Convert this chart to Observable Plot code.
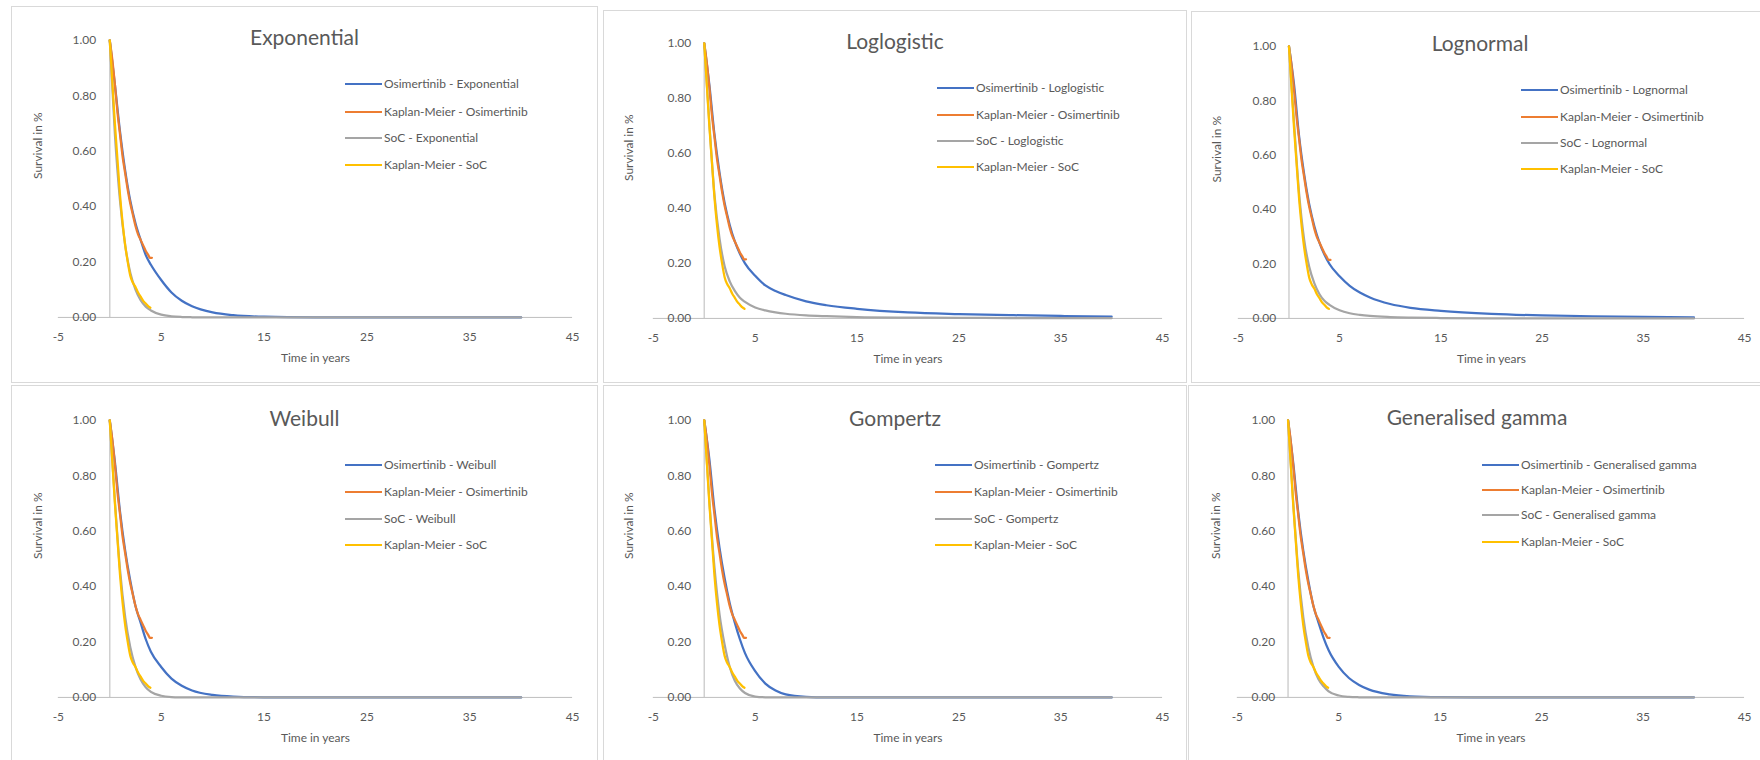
<!DOCTYPE html>
<html><head><meta charset="utf-8">
<script src="https://cdn.jsdelivr.net/npm/d3@7"></script>
<script src="https://cdn.jsdelivr.net/npm/@observablehq/plot@0.6"></script>
<style>
html,body{margin:0;padding:0;background:#fff;}
#root{position:relative;width:1760px;height:760px;overflow:hidden;font-family:Lato,"Open Sans",sans-serif;color:#595959;}
.panel{position:absolute;box-sizing:border-box;border:1px solid #d9d9d9;background:#fff;}
.panel svg{position:absolute;left:-1px;top:-1px;}
.title{position:absolute;left:0;right:0;text-align:center;font-size:21px;line-height:22px;white-space:nowrap;}
.item{position:absolute;white-space:nowrap;display:flex;align-items:center;font-size:12px;line-height:16px;height:16px;}
.swatch{display:inline-block;width:37px;height:0;border-top:2.5px solid;margin-right:2px;}
</style></head><body><div id="root"></div>
<script>
// ---- data ----
const models = ["Exponential", "Loglogistic", "Lognormal", "Weibull", "Gompertz", "Generalised gamma"];
const xTicks = [-5, 5, 15, 25, 35, 45];
const yTicks = [0, 0.2, 0.4, 0.6, 0.8, 1.0];

const fitTimes = [0, 0.5, 1, 1.5, 2, 2.5, 3, 3.5, 4, 5, 6, 7, 8, 10, 12, 15, 20, 25, 30, 35, 40];

const osiExponential = [1, 0.84, 0.67, 0.53, 0.42, 0.34, 0.28, 0.225, 0.19, 0.135, 0.09, 0.06, 0.04, 0.018, 0.008, 0.0025, 0.0003, 0, 0, 0, 0];
const socExponential = [1, 0.66, 0.42, 0.26, 0.16, 0.10, 0.062, 0.039, 0.025, 0.01, 0.004, 0.0015, 0.0006, 0, 0, 0, 0, 0, 0, 0, 0];
const osiLoglogistic = [1, 0.85, 0.67, 0.53, 0.42, 0.34, 0.28, 0.235, 0.20, 0.155, 0.12, 0.10, 0.085, 0.062, 0.048, 0.035, 0.022, 0.016, 0.012, 0.009, 0.007];
const socLoglogistic = [1, 0.71, 0.45, 0.29, 0.19, 0.135, 0.10, 0.075, 0.06, 0.04, 0.029, 0.022, 0.017, 0.011, 0.008, 0.005, 0.003, 0.002, 0.0015, 0.001, 0.001];
const osiLognormal = [1, 0.86, 0.67, 0.53, 0.42, 0.34, 0.28, 0.235, 0.20, 0.155, 0.12, 0.095, 0.077, 0.053, 0.039, 0.028, 0.017, 0.011, 0.008, 0.006, 0.004];
const socLognormal = [1, 0.72, 0.46, 0.29, 0.19, 0.13, 0.09, 0.065, 0.05, 0.03, 0.019, 0.013, 0.009, 0.005, 0.003, 0.0015, 0.0005, 0, 0, 0, 0];
const osiWeibull = [1, 0.85, 0.67, 0.53, 0.42, 0.33, 0.27, 0.21, 0.165, 0.11, 0.068, 0.042, 0.025, 0.009, 0.003, 0.0005, 0, 0, 0, 0, 0];
const socWeibull = [1, 0.71, 0.46, 0.29, 0.18, 0.11, 0.065, 0.037, 0.02, 0.006, 0.0015, 0.0004, 0, 0, 0, 0, 0, 0, 0, 0, 0];
const osiGompertz = [1, 0.86, 0.68, 0.54, 0.43, 0.34, 0.27, 0.21, 0.16, 0.095, 0.05, 0.025, 0.011, 0.002, 0, 0, 0, 0, 0, 0, 0];
const socGompertz = [1, 0.71, 0.47, 0.30, 0.19, 0.11, 0.06, 0.032, 0.016, 0.003, 0.0005, 0, 0, 0, 0, 0, 0, 0, 0, 0, 0];
const osiGenGamma = [1, 0.85, 0.67, 0.53, 0.42, 0.33, 0.27, 0.215, 0.17, 0.11, 0.07, 0.045, 0.028, 0.011, 0.004, 0.001, 0, 0, 0, 0, 0];
const socGenGamma = [1, 0.71, 0.46, 0.29, 0.18, 0.11, 0.066, 0.04, 0.022, 0.007, 0.002, 0.0005, 0, 0, 0, 0, 0, 0, 0, 0, 0];

const kmOsiTimes = [0, 0.25, 0.5, 0.75, 1, 1.25, 1.5, 1.75, 2, 2.25, 2.5, 2.75, 3, 3.25, 3.5, 3.75, 3.9, 4.1];
const kmOsiSurv  = [1, 0.93, 0.84, 0.74, 0.66, 0.58, 0.52, 0.46, 0.41, 0.37, 0.33, 0.30, 0.28, 0.26, 0.24, 0.225, 0.215, 0.215];
const kmSocTimes = [0, 0.25, 0.5, 0.75, 1, 1.25, 1.5, 1.75, 2, 2.25, 2.5, 2.75, 3, 3.25, 3.5, 3.75, 3.95];
const kmSocSurv  = [1, 0.85, 0.70, 0.57, 0.44, 0.34, 0.26, 0.20, 0.15, 0.125, 0.11, 0.09, 0.075, 0.06, 0.05, 0.04, 0.035];

const osiFits = [osiExponential, osiLoglogistic, osiLognormal, osiWeibull, osiGompertz, osiGenGamma];
const socFits = [socExponential, socLoglogistic, socLognormal, socWeibull, socGompertz, socGenGamma];

// ---- layout & style ----
const colors = {osi: "#4472C4", kmOsi: "#ED7D31", soc: "#A5A5A5", kmSoc: "#FFC000"};
const layout = [
  {left: 11,   top: 6,   width: 587, height: 377, x0: 58,   x1: 574,  y1: 40,  y0: 318, titleY: 36,  legX: 344,  legY: [83, 111, 137, 164], yLabDx: -20},
  {left: 603,  top: 10,  width: 584, height: 373, x0: 653,  x1: 1164, y1: 43,  y0: 319, titleY: 40,  legX: 936,  legY: [87, 114, 140, 166], yLabDx: -24},
  {left: 1191, top: 11,  width: 578, height: 372, x0: 1238, x1: 1746, y1: 46,  y0: 319, titleY: 42,  legX: 1520, legY: [89, 116, 142, 168], yLabDx: -21},
  {left: 11,   top: 385, width: 587, height: 380, x0: 58,   x1: 574,  y1: 420, y0: 698, titleY: 417, legX: 344,  legY: [464, 491, 518, 544], yLabDx: -20},
  {left: 603,  top: 385, width: 584, height: 380, x0: 653,  x1: 1164, y1: 420, y0: 698, titleY: 417, legX: 934,  legY: [464, 491, 518, 544], yLabDx: -24},
  {left: 1188, top: 385, width: 578, height: 380, x0: 1237, x1: 1746, y1: 420, y0: 698, titleY: 416, legX: 1481, legY: [464, 489, 514, 541], yLabDx: -21}
];

const root = document.getElementById("root");
const toRows = (ts, ss) => ts.map((t, i) => ({t, s: ss[i]}));
const kmOsi = toRows(kmOsiTimes, kmOsiSurv);
const kmSoc = toRows(kmSocTimes, kmSocSurv);

models.forEach((model, i) => {
  const L = layout[i];
  const panel = document.createElement("div");
  panel.className = "panel";
  Object.assign(panel.style, {left: L.left + "px", top: L.top + "px", width: L.width + "px", height: L.height + "px"});
  root.appendChild(panel);

  const osi = toRows(fitTimes, osiFits[i]);
  const soc = toRows(fitTimes, socFits[i]);
  const lineOpts = {x: "t", y: "s", curve: "monotone-x", strokeWidth: 2.25, strokeLinejoin: "round", strokeLinecap: "round"};

  const chart = Plot.plot({
    width: L.width,
    height: L.height,
    marginLeft: L.x0 - L.left,
    marginRight: L.left + L.width - L.x1,
    marginTop: L.y1 - L.top,
    marginBottom: L.top + L.height - L.y0,
    style: {fontFamily: "Lato, 'Open Sans', sans-serif", fontSize: "12px", color: "#595959", background: "transparent", overflow: "visible"},
    x: {domain: [-5, 45]},
    y: {domain: [0, 1]},
    marks: [
      Plot.ruleX([0], {stroke: "#d0d0d0", strokeWidth: 1.5}),
      Plot.ruleY([0], {stroke: "#bfbfbf", strokeWidth: 1}),
      Plot.axisX({ticks: xTicks, tickSize: 0, tickPadding: 15, label: null, tickFormat: d => String(d)}),
      Plot.axisY({ticks: yTicks, tickSize: 0, tickPadding: 0, dx: 38, label: null, tickFormat: d3.format(".2f")}),
      Plot.text(["Time in years"], {frameAnchor: "bottom", dy: 45, fontSize: 12, fill: "#595959"}),
      Plot.text(["Survival in %"], {frameAnchor: "left", rotate: -90, dx: L.yLabDx, fontSize: 12, fill: "#595959"}),
      Plot.line(osi, {...lineOpts, stroke: colors.osi}),
      Plot.line(kmOsi, {...lineOpts, stroke: colors.kmOsi}),
      Plot.line(soc, {...lineOpts, stroke: colors.soc}),
      Plot.line(kmSoc, {...lineOpts, stroke: colors.kmSoc})
    ]
  });
  panel.appendChild(chart);

  const title = document.createElement("div");
  title.className = "title";
  title.style.top = (L.titleY - L.top - 11) + "px";
  title.textContent = model;
  panel.appendChild(title);

  const legendItems = [
    [colors.osi, `Osimertinib - ${model}`],
    [colors.kmOsi, "Kaplan-Meier - Osimertinib"],
    [colors.soc, `SoC - ${model}`],
    [colors.kmSoc, "Kaplan-Meier - SoC"]
  ];
  legendItems.forEach(([c, label], k) => {
    const it = document.createElement("div");
    it.className = "item";
    it.style.left = (L.legX - L.left) + "px";
    it.style.top = (L.legY[k] - L.top - 8) + "px";
    const sw = document.createElement("span");
    sw.className = "swatch";
    sw.style.borderTopColor = c;
    it.appendChild(sw);
    const tx = document.createElement("span");
    tx.textContent = label;
    it.appendChild(tx);
    panel.appendChild(it);
  });
});
</script></body></html>
